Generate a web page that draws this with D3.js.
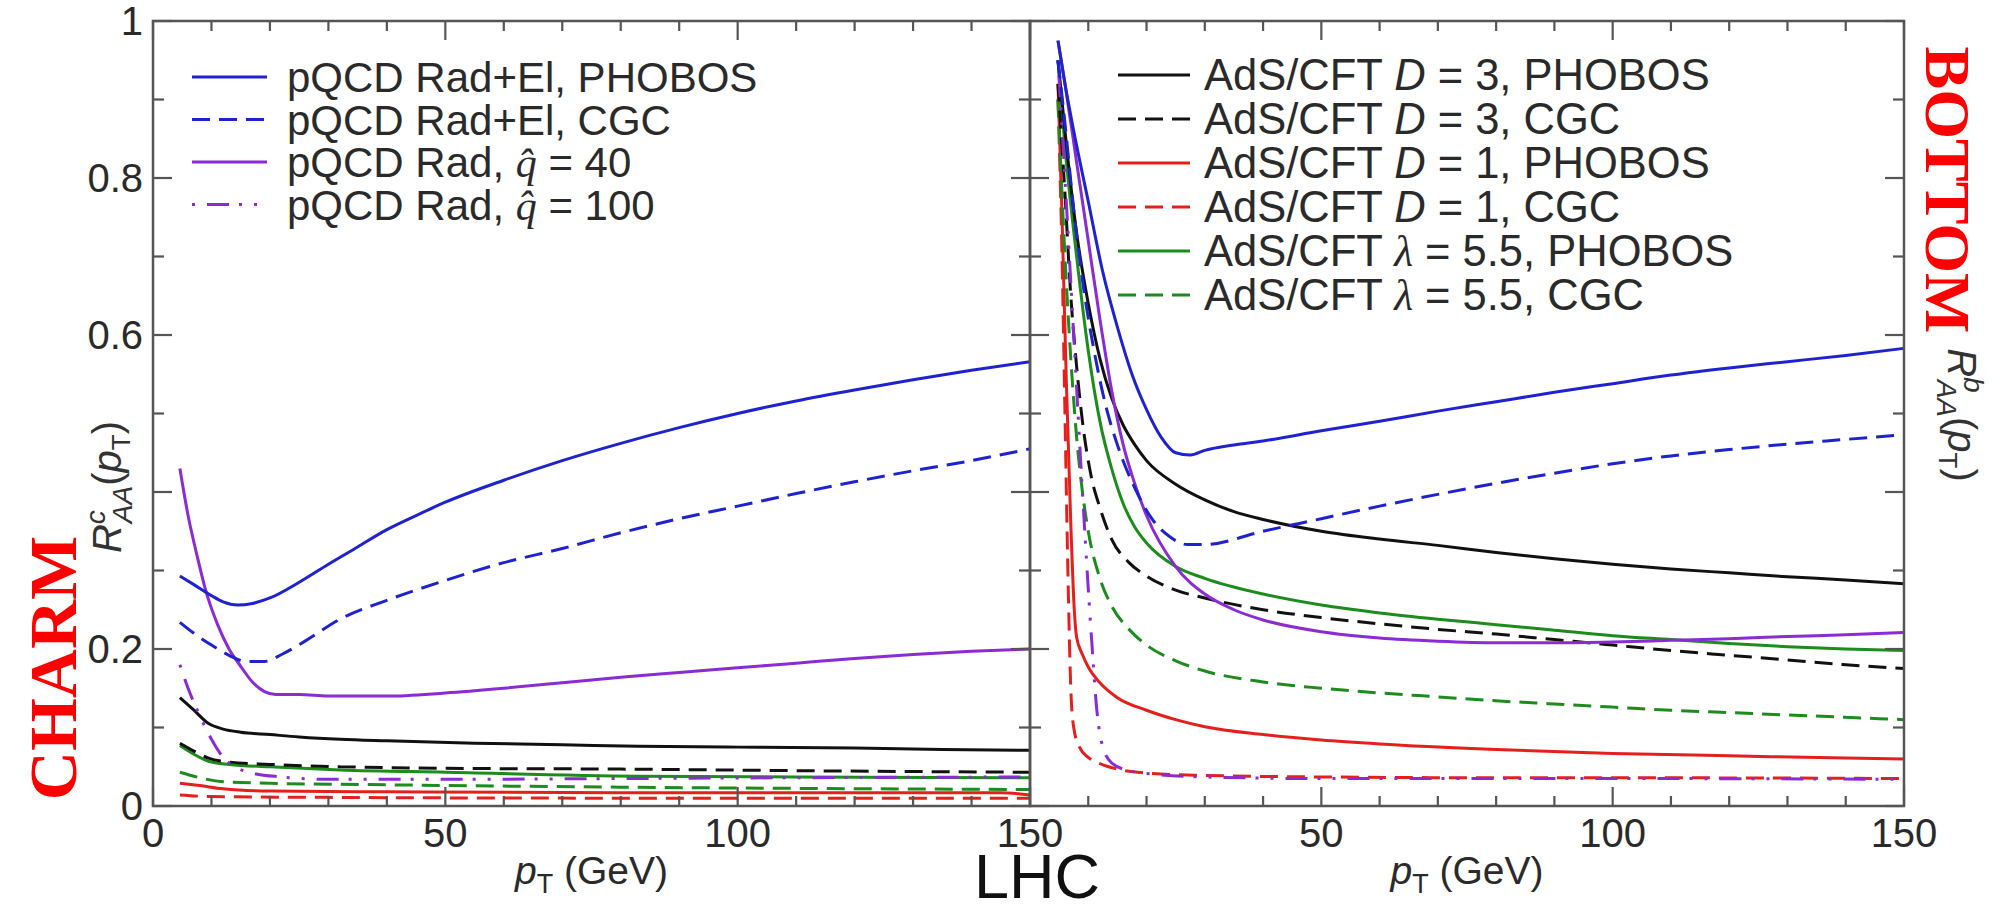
<!DOCTYPE html>
<html>
<head>
<meta charset="utf-8">
<script src="https://cdn.jsdelivr.net/npm/d3@7"></script>
<style>
  body { margin: 0; background: #fff; }
  svg { display: block; }
</style>
</head>
<body>
<svg id="chart" width="1992" height="905" font-family="'Liberation Sans', Arial, Helvetica, sans-serif"></svg>
<script>
// ---- axis ticks ----
const xMajorTicks = [0, 50, 100, 150];
const xMinorTicks = d3.range(0, 151, 10);
const yMajorTicks = [0, 0.2, 0.4, 0.6, 0.8, 1];
const yMinorTicks = d3.range(0, 1.001, 0.1);
// the 0.4 position is taken by the axis title
const yTickLabels = ["0", "0.2", "", "0.6", "0.8", "1"];

// ---- charm R_AA(pT), [pT, R] ----
const cRadElPhobos = [[4.6,0.293],[7,0.282],[10,0.268],[12,0.26],[14.5,0.256],[17,0.258],[20,0.265],[25,0.285],[30,0.308],[35,0.33],[40,0.352],[45,0.37],[50,0.387],[60,0.415],[70,0.44],[80,0.462],[90,0.482],[100,0.5],[110,0.516],[120,0.53],[130,0.543],[140,0.555],[150,0.566]];
const cRadElCgc = [[4.6,0.234],[7,0.22],[10,0.205],[13,0.192],[16,0.184],[19,0.184],[22,0.193],[26,0.21],[32,0.238],[40,0.262],[49,0.285],[60,0.31],[70,0.328],[80,0.348],[90,0.366],[100,0.382],[110,0.398],[120,0.413],[130,0.427],[140,0.44],[150,0.455]];
const cRadQ40 = [[4.6,0.43],[6,0.37],[7.5,0.32],[9,0.275],[11,0.232],[13,0.2],[15,0.178],[17,0.158],[19,0.146],[21,0.142],[25,0.142],[30,0.14],[40,0.14],[50,0.144],[60,0.15],[70,0.157],[80,0.164],[90,0.17],[100,0.176],[110,0.182],[120,0.188],[130,0.193],[140,0.197],[150,0.2]];
const cRadQ100 = [[4.6,0.18],[6,0.15],[8,0.115],[10,0.085],[12,0.062],[14,0.05],[17,0.042],[22,0.037],[30,0.034],[50,0.034],[80,0.035],[110,0.036],[150,0.037]];
const cD3Phobos = [[4.6,0.138],[7,0.122],[9.5,0.105],[12,0.098],[15,0.094],[20,0.091],[25,0.088],[32,0.085],[40,0.083],[55,0.08],[70,0.078],[83,0.076],[100,0.075],[120,0.074],[135,0.072],[150,0.071]];
const cD3Cgc = [[4.6,0.08],[7,0.07],[9.5,0.061],[13,0.056],[20,0.053],[32,0.05],[50,0.048],[80,0.047],[110,0.045],[150,0.043]];
const cD1Phobos = [[4.6,0.029],[8,0.026],[12,0.022],[20,0.019],[40,0.018],[80,0.017],[120,0.017],[145,0.017],[150,0.014]];
const cD1Cgc = [[4.6,0.014],[10,0.012],[30,0.011],[80,0.01],[150,0.01]];
const cL55Phobos = [[4.6,0.077],[7,0.066],[9.5,0.057],[13,0.053],[20,0.05],[32,0.046],[50,0.043],[83,0.038],[110,0.037],[150,0.036]];
const cL55Cgc = [[4.6,0.043],[8,0.036],[12,0.031],[20,0.029],[40,0.027],[80,0.024],[120,0.022],[150,0.021]];

// ---- bottom R_AA(pT), [pT, R] ----
const bRadElPhobos = [[4.8,0.975],[6,0.92],[7.5,0.86],[10,0.77],[12.5,0.68],[15,0.61],[17.5,0.55],[20,0.505],[22.5,0.47],[25,0.45],[27.5,0.447],[30,0.453],[35,0.46],[40,0.465],[50,0.478],[60,0.49],[70,0.503],[80,0.515],[90,0.527],[100,0.538],[110,0.549],[120,0.558],[130,0.566],[140,0.574],[150,0.583]];
const bRadElCgc = [[4.8,0.95],[6,0.87],[7.5,0.76],[9,0.67],[11,0.58],[13,0.51],[15,0.46],[18,0.405],[21,0.365],[24,0.343],[27,0.333],[30,0.333],[40,0.35],[50,0.366],[60,0.382],[70,0.397],[80,0.411],[90,0.424],[100,0.436],[110,0.446],[120,0.454],[130,0.461],[140,0.467],[150,0.473]];
const bRadQ40 = [[4.8,0.975],[6,0.92],[8,0.82],[10,0.72],[12,0.62],[14,0.53],[16,0.46],[18,0.41],[20,0.37],[25,0.305],[30,0.27],[35,0.25],[40,0.237],[50,0.222],[60,0.214],[70,0.21],[80,0.208],[90,0.208],[100,0.209],[110,0.211],[120,0.213],[130,0.216],[140,0.218],[150,0.221]];
const bRadQ100 = [[4.8,0.95],[6,0.8],[7.5,0.6],[9,0.4],[10.5,0.22],[11.5,0.12],[12.5,0.075],[14,0.055],[17,0.045],[22,0.04],[30,0.037],[50,0.035],[100,0.035],[150,0.034]];
const bD3Phobos = [[4.8,0.95],[6,0.86],[8,0.73],[10,0.64],[12,0.57],[14,0.52],[16,0.485],[18,0.46],[20,0.44],[25,0.41],[30,0.39],[35,0.375],[40,0.365],[50,0.35],[60,0.34],[70,0.332],[80,0.323],[90,0.315],[100,0.308],[110,0.302],[120,0.297],[130,0.292],[140,0.288],[150,0.283]];
const bD3Cgc = [[4.8,0.92],[6,0.78],[7,0.65],[8,0.56],[9,0.49],[10.5,0.42],[12,0.38],[14,0.34],[17,0.31],[20,0.293],[25,0.275],[30,0.265],[40,0.25],[50,0.24],[60,0.232],[70,0.225],[80,0.219],[90,0.212],[100,0.205],[110,0.198],[120,0.192],[130,0.186],[140,0.18],[150,0.175]];
const bD1Phobos = [[4.8,0.92],[5.5,0.75],[6.2,0.55],[7,0.36],[7.6,0.25],[8,0.215],[9,0.193],[10,0.177],[12,0.157],[15,0.138],[20,0.122],[25,0.11],[30,0.101],[40,0.091],[50,0.084],[60,0.079],[80,0.072],[100,0.067],[120,0.064],[140,0.061],[150,0.06]];
const bD1Cgc = [[4.8,0.9],[5.5,0.7],[6,0.5],[6.5,0.3],[7,0.15],[7.5,0.1],[8.5,0.075],[10,0.062],[12,0.054],[15,0.047],[20,0.042],[30,0.039],[50,0.037],[80,0.036],[100,0.036],[150,0.035]];
const bL55Phobos = [[4.8,0.95],[6,0.84],[8,0.7],[10,0.58],[12,0.49],[14,0.43],[16,0.385],[18,0.355],[20,0.335],[25,0.305],[30,0.29],[40,0.27],[50,0.256],[60,0.246],[70,0.238],[80,0.231],[90,0.224],[100,0.217],[110,0.212],[120,0.207],[130,0.203],[140,0.2],[150,0.198]];
const bL55Cgc = [[4.8,0.9],[6,0.7],[7,0.57],[8,0.47],[9,0.4],[10,0.35],[12,0.29],[14,0.255],[17,0.225],[20,0.205],[25,0.185],[30,0.172],[40,0.158],[50,0.15],[60,0.144],[70,0.139],[80,0.134],[90,0.13],[100,0.126],[110,0.122],[120,0.119],[130,0.116],[140,0.113],[150,0.11]];

// ---- styles ----
const COL = { blue: "#1e22cf", purple: "#8b2bd4", black: "#111111", red: "#e5201c", green: "#1c8c1c" };
const DASH = { solid: null, dashed: "18,9", dashdot: "3,12,22,10,3,12" };
const SERIF = "'Liberation Serif', 'Times New Roman', 'DejaVu Serif', serif";

const charmSeries = [
  { data: cD1Cgc, color: COL.red, dash: "dashed" },
  { data: cD1Phobos, color: COL.red, dash: "solid" },
  { data: cL55Cgc, color: COL.green, dash: "dashed" },
  { data: cL55Phobos, color: COL.green, dash: "solid" },
  { data: cD3Cgc, color: COL.black, dash: "dashed" },
  { data: cD3Phobos, color: COL.black, dash: "solid" },
  { data: cRadQ100, color: COL.purple, dash: "dashdot" },
  { data: cRadQ40, color: COL.purple, dash: "solid" },
  { data: cRadElCgc, color: COL.blue, dash: "dashed" },
  { data: cRadElPhobos, color: COL.blue, dash: "solid" }
];
const bottomSeries = [
  { data: bD1Cgc, color: COL.red, dash: "dashed" },
  { data: bD1Phobos, color: COL.red, dash: "solid" },
  { data: bL55Cgc, color: COL.green, dash: "dashed" },
  { data: bL55Phobos, color: COL.green, dash: "solid" },
  { data: bD3Cgc, color: COL.black, dash: "dashed" },
  { data: bD3Phobos, color: COL.black, dash: "solid" },
  { data: bRadQ100, color: COL.purple, dash: "dashdot" },
  { data: bRadQ40, color: COL.purple, dash: "solid" },
  { data: bRadElCgc, color: COL.blue, dash: "dashed" },
  { data: bRadElPhobos, color: COL.blue, dash: "solid" }
];

// legend entries: text pieces [string, style]
const legendLeft = [
  { color: COL.blue, dash: "solid", parts: [["pQCD Rad+El, PHOBOS", ""]] },
  { color: COL.blue, dash: "dashed", parts: [["pQCD Rad+El, CGC", ""]] },
  { color: COL.purple, dash: "solid", parts: [["pQCD Rad, ", ""], ["q\u0302", "serif"], [" = 40", ""]] },
  { color: COL.purple, dash: "dashdot", parts: [["pQCD Rad, ", ""], ["q\u0302", "serif"], [" = 100", ""]] }
];
const legendRight = [
  { color: COL.black, dash: "solid", parts: [["AdS/CFT ", ""], ["D", "italic"], [" = 3, PHOBOS", ""]] },
  { color: COL.black, dash: "dashed", parts: [["AdS/CFT ", ""], ["D", "italic"], [" = 3, CGC", ""]] },
  { color: COL.red, dash: "solid", parts: [["AdS/CFT ", ""], ["D", "italic"], [" = 1, PHOBOS", ""]] },
  { color: COL.red, dash: "dashed", parts: [["AdS/CFT ", ""], ["D", "italic"], [" = 1, CGC", ""]] },
  { color: COL.green, dash: "solid", parts: [["AdS/CFT ", ""], ["\u03bb", "serif"], [" = 5.5, PHOBOS", ""]] },
  { color: COL.green, dash: "dashed", parts: [["AdS/CFT ", ""], ["\u03bb", "serif"], [" = 5.5, CGC", ""]] }
];

// ---- layout ----
const svg = d3.select("#chart");
const plotTop = 21, plotBottom = 806;
const leftX0 = 153, midX = 1030, rightX1 = 1904;
const AXIS = "#555";
const TEXT = "#2a2a2a";

const y = d3.scaleLinear().domain([0, 1]).range([plotBottom, plotTop]);
const xL = d3.scaleLinear().domain([0, 150]).range([leftX0, midX]);
const xR = d3.scaleLinear().domain([0, 150]).range([midX, rightX1]);

const defs = svg.append("defs");

function drawPanel(x, series, id) {
  const [x0, x1] = x.range();
  defs.append("clipPath").attr("id", id)
    .append("rect").attr("x", x0).attr("y", plotTop).attr("width", x1 - x0).attr("height", plotBottom - plotTop);

  const line = d3.line().x(d => x(d[0])).y(d => y(d[1])).curve(d3.curveMonotoneX);
  const g = svg.append("g").attr("clip-path", `url(#${id})`);
  series.forEach(s => {
    g.append("path")
      .attr("d", line(s.data))
      .attr("fill", "none")
      .attr("stroke", s.color)
      .attr("stroke-width", 3)
      .attr("stroke-dasharray", DASH[s.dash]);
  });

  // ticks on all four sides, pointing inward
  const tk = svg.append("g").attr("stroke", AXIS).attr("stroke-width", 2.2);
  xMinorTicks.forEach(v => {
    const len = xMajorTicks.includes(v) ? 19 : 10;
    tk.append("line").attr("x1", x(v)).attr("x2", x(v)).attr("y1", plotBottom).attr("y2", plotBottom - len);
    tk.append("line").attr("x1", x(v)).attr("x2", x(v)).attr("y1", plotTop).attr("y2", plotTop + len);
  });
  yMinorTicks.forEach(v => {
    const major = yMajorTicks.some(m => Math.abs(m - v) < 1e-6);
    const len = major ? 19 : 11;
    tk.append("line").attr("x1", x0).attr("x2", x0 + len).attr("y1", y(v)).attr("y2", y(v));
    tk.append("line").attr("x1", x1).attr("x2", x1 - len).attr("y1", y(v)).attr("y2", y(v));
  });
  svg.append("rect").attr("x", x0).attr("y", plotTop).attr("width", x1 - x0).attr("height", plotBottom - plotTop)
    .attr("fill", "none").attr("stroke", AXIS).attr("stroke-width", 2.5);
}

drawPanel(xL, charmSeries, "clipCharm");
drawPanel(xR, bottomSeries, "clipBottom");

// x tick labels
const xl = svg.append("g").attr("fill", TEXT).attr("font-size", 40).attr("text-anchor", "middle");
xMajorTicks.forEach(v => xl.append("text").attr("x", xL(v)).attr("y", 847).text(v));
xMajorTicks.filter(v => v > 0).forEach(v => xl.append("text").attr("x", xR(v)).attr("y", 847).text(v));

// y tick labels (left panel only)
const yl = svg.append("g").attr("fill", TEXT).attr("font-size", 40).attr("text-anchor", "end");
yMajorTicks.forEach((v, i) => {
  if (yTickLabels[i]) yl.append("text").attr("x", 143).attr("y", y(v) + 14).text(yTickLabels[i]);
});

// x axis titles
function pTTitle(cx) {
  const t = svg.append("text").attr("x", cx).attr("y", 884).attr("text-anchor", "middle")
    .attr("font-size", 39).attr("fill", TEXT);
  t.append("tspan").attr("font-style", "italic").text("p");
  t.append("tspan").attr("font-size", 27).attr("dy", 9).text("T");
  t.append("tspan").attr("dy", -9).text(" (GeV)");
}
pTTitle((leftX0 + midX) / 2);
pTTitle((midX + rightX1) / 2);

// y axis titles
function rTitle(x0, yc, angle, flavour) {
  const t = svg.append("text").attr("transform", `translate(${x0},${yc}) rotate(${angle})`)
    .attr("text-anchor", "middle").attr("font-size", 40).attr("fill", "#333");
  t.append("tspan").attr("font-style", "italic").text("R");
  t.append("tspan").attr("font-style", "italic").attr("font-size", 28).attr("dy", -16).text(flavour);
  t.append("tspan").attr("font-style", "italic").attr("font-size", 28).attr("dy", 27).attr("dx", -13).text("AA");
  t.append("tspan").attr("dy", -11).text("(");
  t.append("tspan").attr("font-style", "italic").text("p");
  t.append("tspan").attr("font-size", 26).attr("dy", 9).text("T");
  t.append("tspan").attr("dy", -9).text(")");
}
rTitle(121, 487, -90, "c");
rTitle(1948, 415, 90, "b");

// legends
function drawLegend(entries, lx0, lx1, tx, y0, dy, fs) {
  const g = svg.append("g");
  entries.forEach((e, i) => {
    const yy = y0 + i * dy;
    g.append("line").attr("x1", lx0).attr("x2", lx1).attr("y1", yy).attr("y2", yy)
      .attr("stroke", e.color).attr("stroke-width", 3).attr("stroke-dasharray", DASH[e.dash]);
    const t = g.append("text").attr("x", tx).attr("y", yy + 15).attr("font-size", fs).attr("fill", TEXT);
    e.parts.forEach(([s, style]) => {
      const sp = t.append("tspan").text(s);
      if (style === "italic") sp.attr("font-style", "italic");
      if (style === "serif") sp.style("font-family", SERIF).attr("font-style", "italic");
    });
  });
}
drawLegend(legendLeft, 192, 267, 287, 77, 42.5, 42);
drawLegend(legendRight, 1118, 1190, 1204, 75, 44, 43.5);

// panel labels
svg.append("text").attr("x", 1037).attr("y", 898).attr("text-anchor", "middle")
  .attr("font-size", 63).attr("fill", "#111").text("LHC");

svg.append("text").attr("transform", "translate(76,668) rotate(-90)")
  .attr("text-anchor", "middle").style("font-family", SERIF)
  .attr("font-weight", "bold").attr("font-size", 68).attr("fill", "#ff0000").text("CHARM");
svg.append("text").attr("transform", "translate(1926,190) rotate(90)")
  .attr("text-anchor", "middle").style("font-family", SERIF)
  .attr("font-weight", "bold").attr("font-size", 64).attr("fill", "#ff0000").text("BOTTOM");
</script>
</body>
</html>
